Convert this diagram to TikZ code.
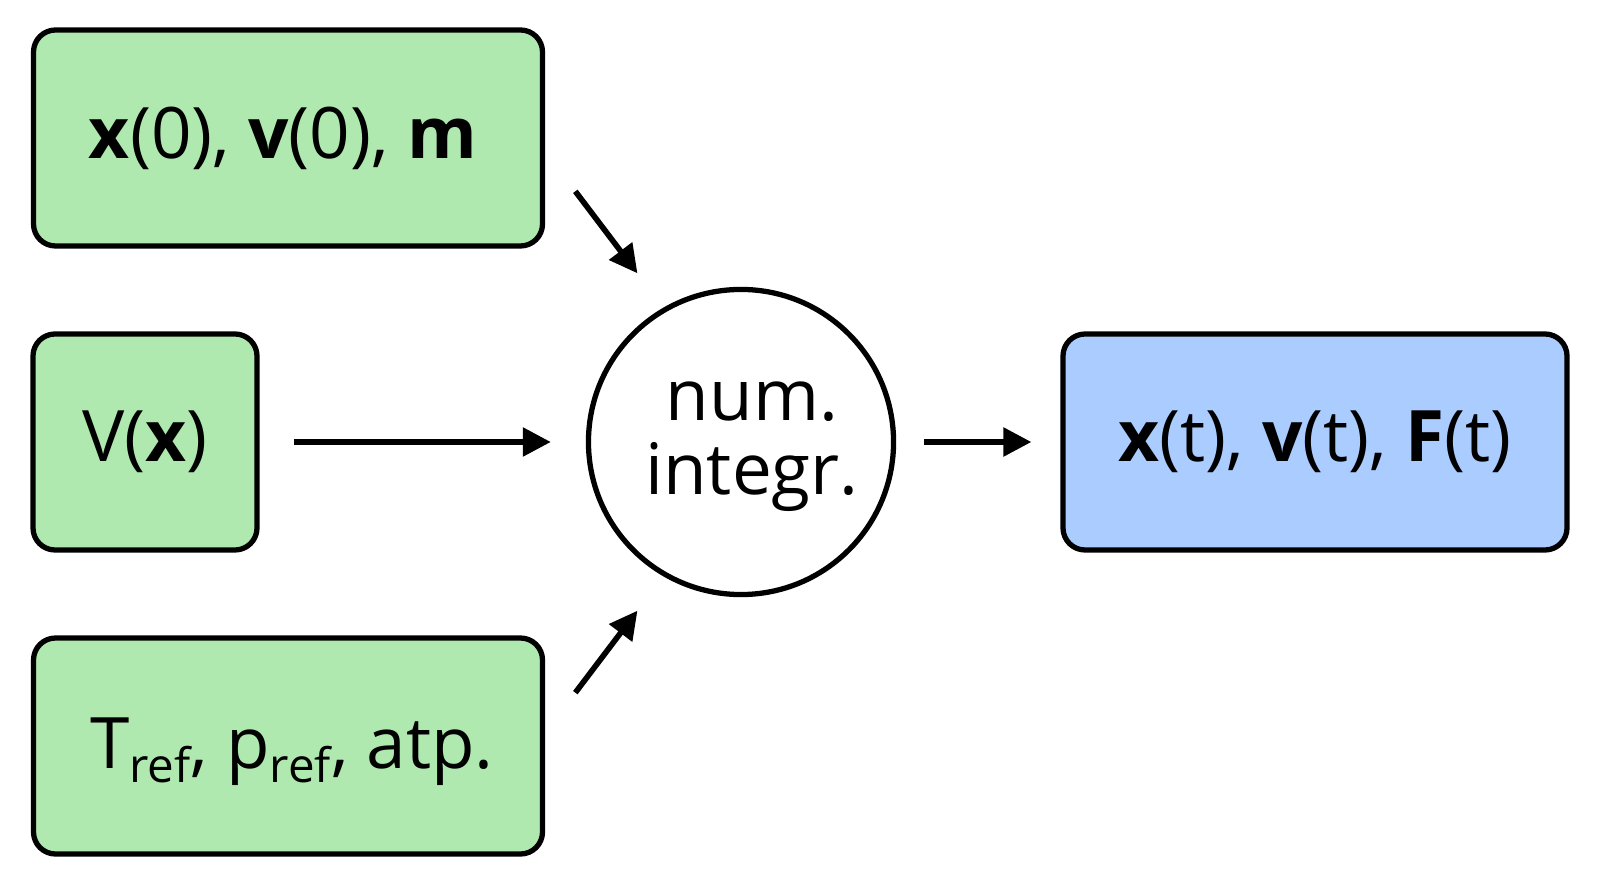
\documentclass[tikz,border=0pt]{standalone}
\usepackage{fontspec}
\setmainfont{Open Sans}
\usetikzlibrary{arrows.meta,positioning,calc}
\definecolor{InGreen}{HTML}{AFE9AF}
\definecolor{OutBlue}{HTML}{AACCFF}
\newcommand{\subref}{\raisebox{-0.2em}{\fontsize{13.5}{14}\selectfont ref}}

\begin{document}
\begin{tikzpicture}[x=1cm,y=1cm,
  box/.style={draw=black,line width=1.5pt,rounded corners=0.22cm,minimum height=2.16cm,font=\fontsize{20.2}{21}\selectfont},
  flow/.style={draw=black,line width=1.6pt,-{Triangle[length=0.28cm,width=0.28cm]}}]
\useasboundingbox (0,0) rectangle (16,8.86);
\node[box,fill=InGreen,minimum width=5.09cm] (init) at (2.88,7.48) {\textbf{x}(0), \textbf{v}(0), \textbf{m}\hspace*{0.1cm}};
\node[box,fill=InGreen,minimum width=2.24cm] (pot) at (1.45,4.44) {V(\textbf{x})};
\node[box,fill=InGreen,minimum width=5.09cm] (refs) at (2.88,1.40) {\hspace*{0.08cm}\rule{0pt}{0.62cm}T\subref, p\subref, atp.};
\node[draw=black,line width=1.5pt,circle,fill=white,minimum size=3.04cm,align=center,font=\fontsize{20.2}{21}\selectfont] (integ) at (7.41,4.44) {\hspace*{0.22cm}\rule{0pt}{0.48cm}num.\\\hspace*{0.22cm}integr.};
\node[box,fill=OutBlue,minimum width=5.04cm] (res) at (13.15,4.44) {\textbf{x}(t), \textbf{v}(t), \textbf{F}(t)};
% inputs
\draw[flow,shorten <=0.5cm,shorten >=0.43cm] (init.-3) -- (integ.120);
\draw[flow,shorten <=0.34cm,shorten >=0.35cm] (pot.east) -- (integ.west);
\draw[flow,shorten <=0.5cm,shorten >=0.43cm] (refs.3) -- (integ.-120);
% output
\draw[flow,shorten <=0.28cm,shorten >=0.29cm] (integ.east) -- (res.west);
\end{tikzpicture}
\end{document}
